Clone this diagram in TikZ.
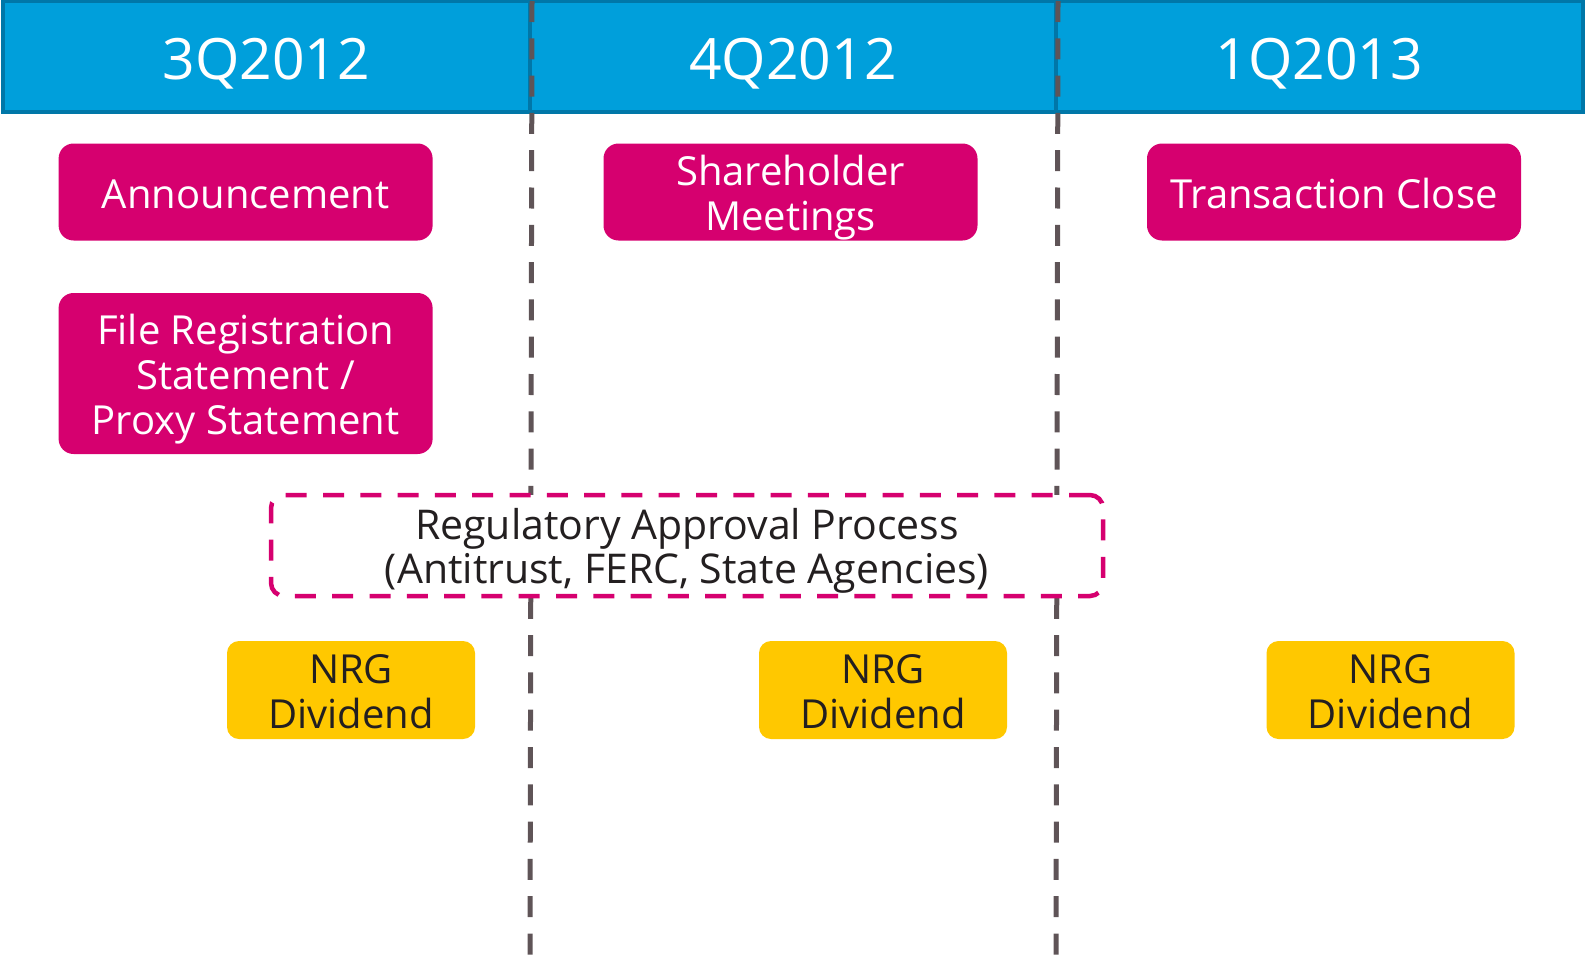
\documentclass[tikz,border=0pt]{standalone}
\usepackage{fontspec}
\setmainfont{Open Sans}
\usetikzlibrary{positioning}
\definecolor{qblue}{HTML}{009FDB}
\definecolor{qedge}{HTML}{0077A8}
\definecolor{evpink}{HTML}{D6006F}
\definecolor{divgold}{HTML}{FFC800}
\definecolor{sepgray}{HTML}{5F5457}
\definecolor{ink}{HTML}{231F20}
% struts so the cap line sits in the middle of the box
\newcommand{\capup}{\rule{0pt}{1.05em}}
\newcommand{\capdn}{\rule[-0.25em]{0pt}{0pt}}
\tikzset{
  qcell/.style={draw=qedge,line width=4pt,fill=qblue,inner sep=0pt,minimum height=110pt,
    text=white,font=\fontsize{57}{62}\selectfont},
  evbox/.style={fill=evpink,rounded corners=15pt,text=white,align=center,inner sep=0pt,
    minimum width=374pt,minimum height=97pt},
  regbox/.style={draw=evpink,line width=4.5pt,dash pattern=on 21pt off 16.3pt,fill=white,
    rounded corners=13pt,text=ink,align=center,inner sep=0pt,minimum width=832pt,minimum height=101pt,
    font=\fontsize{41}{44}\selectfont},
  divbox/.style={fill=divgold,rounded corners=12pt,text=ink,align=center,inner sep=0pt,
    minimum width=248pt,minimum height=98pt},
  sep/.style={draw=sepgray,line width=5pt,dash pattern=on 21pt off 16.3pt},
}
\begin{document}
\begin{tikzpicture}[x=1pt,y=-1pt,font=\fontsize{40}{45}\selectfont]
\useasboundingbox (0,0) rectangle (1585,958);
\node[qcell,minimum width=527.5pt] (q3) at (266.25,56.5) {\capup 3Q2012\capdn};
\node[qcell,minimum width=526pt] (q4) at (793,56.5) {\capup 4Q2012\capdn};
\node[qcell,minimum width=526.5pt] (q1) at (1319.25,56.5) {\capup 1Q2013\capdn};
\coordinate (s1) at (530,958);
\coordinate (s2) at (1056,958);
\draw[sep] ([yshift=-1.5pt]q3.north east) -- (s1);
\draw[sep] ([yshift=-1.5pt]q4.north east) -- (s2);
\node[evbox] (ann) at (245.6,192) {\capup Announcement\capdn};
\node[evbox,minimum height=161pt] (filing) at (245.6,373.5) {\capup File Registration\\Statement /\\Proxy Statement\capdn};
\node[evbox] (meet) at (790.5,192) {\capup Shareholder\\Meetings\capdn};
\node[evbox] (close) at (1334,192) {\capup Transaction Close\capdn};
\node[regbox] (reg) at (687,545.5) {\capup Regulatory Approval Process\\(Antitrust, FERC, State Agencies)\capdn};
\node[divbox] (div3) at (351,690) {\capup NRG\\Dividend\capdn};
\node[divbox] (div4) at (883,690) {\capup NRG\\Dividend\capdn};
\node[divbox] (div1) at (1390.5,690) {\capup NRG\\Dividend\capdn};
\end{tikzpicture}
\end{document}
